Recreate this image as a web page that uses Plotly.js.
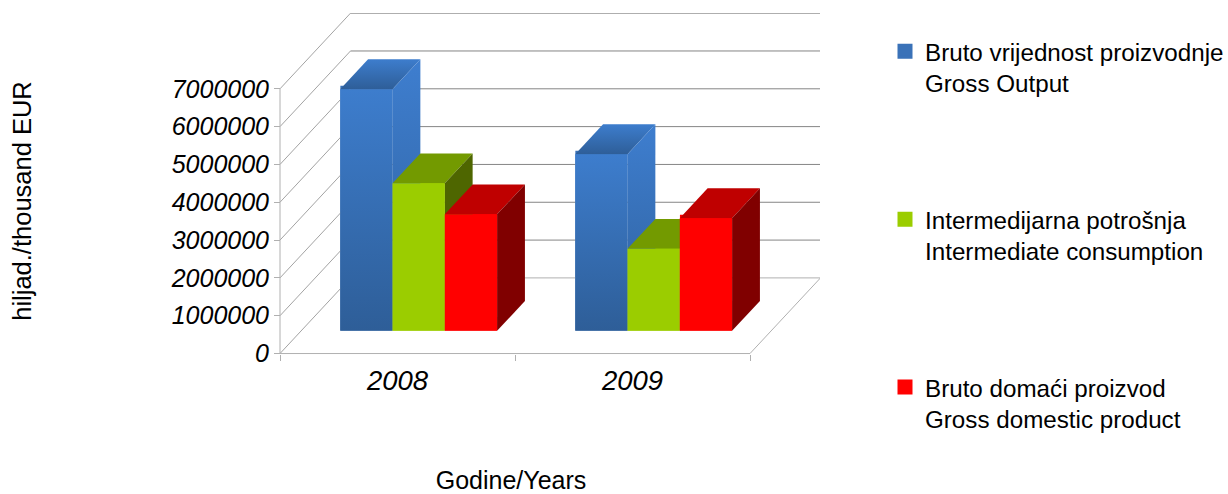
<!DOCTYPE html>
<html>
<head>
<meta charset="utf-8">
<script src="https://cdn.plot.ly/plotly-3.0.1.min.js"></script>
<style>html,body{margin:0;padding:0;background:#fff}</style>
</head>
<body>
<div id="chart" style="width:1228px;height:494px"></div>
<script>
const categories = ['2008', '2009'];
const grossOutput = [6390000, 4670000];
const intermediate = [3900000, 2170000];
const gdp = [3080000, 2980000];
const yTicks = [0, 1000000, 2000000, 3000000, 4000000, 5000000, 6000000, 7000000];
const seriesNames = [
  'Bruto vrijednost proizvodnje<br>Gross Output',
  'Intermedijarna potrošnja<br>Intermediate consumption',
  'Bruto domaći proizvod<br>Gross domestic product'
];

const FONT = 'Liberation Sans, Arial, sans-serif';
/* oblique projection of the 3D box: depth 0 = front of the floor, 1 = back wall */
const depthX = 0.3, depthY = 2000000;
const barFront = 0.3, barDepth = 0.395, barW = 0.2225;
const project = (x, v, d) => [x + d * depthX, v + d * depthY];

function poly(pts, style) {
  return Object.assign({
    type: 'scatter', mode: 'lines', x: pts.map(p => p[0]), y: pts.map(p => p[1]),
    fill: 'toself', line: {width: 0}, showlegend: false, hoverinfo: 'skip', cliponaxis: false
  }, style);
}
const solid = c => ({fillcolor: c});
const grad = (top, bottom) => ({fillgradient: {type: 'vertical', colorscale: [[0, bottom], [1, top]]}});

function lines(segs, color) {
  const x = [], y = [];
  segs.forEach(s => { s.forEach(p => { x.push(p[0]); y.push(p[1]); }); x.push(null); y.push(null); });
  return {type: 'scatter', mode: 'lines', x, y, line: {color, width: 1}, showlegend: false, hoverinfo: 'skip', cliponaxis: false};
}

const nCat = categories.length;
const traces = [];
/* walls and floor */
traces.push(lines(yTicks.map(v => [project(0, v, 0), project(0, v, 1)]), '#a3a3a3'));
traces.push(lines(yTicks.slice(1).map(v => [project(0, v, 1), project(nCat, v, 1)]), '#858585'));
traces.push(lines([[project(0, 0, 1), project(nCat, 0, 1)], [project(nCat, 0, 0), project(nCat, 0, 1)]], '#b0b0b0'));
traces.push(lines([[[0, 0], [0, yTicks[yTicks.length - 1]]], [[0, 0], [nCat, 0]]], '#b0b0b0'));

const series = [
  {vals: grossOutput, legend: '#3a72b8', front: grad('#3d7dcd', '#2e5e98'), top: grad('#3d7dcd', '#2e5e98'), side: grad('#3e7ecf', '#2f609c')},
  {vals: intermediate, legend: '#9bcd00', front: solid('#9bcd00'), top: solid('#739a00'), side: solid('#4e6600')},
  {vals: gdp, legend: '#ff0000', front: solid('#ff0000'), top: solid('#bf0000'), side: solid('#800000')}
];

/* real bars carry the values and the legend; the box faces go over them */
series.forEach((s, i) => {
  const xs = categories.map((c, k) => project(k + 0.5 + (i - 1) * barW, 0, barFront)[0]);
  traces.push({
    type: 'bar', name: seriesNames[i], x: xs, y: s.vals, base: s.vals.map(() => barFront * depthY + 50000),
    width: barW - 0.014, marker: {color: s.legend, line: {color: s.legend, width: 3}},
    legendgroup: 'g' + i, hoverinfo: 'skip'
  });
});
series.forEach((s, i) => {
  s.vals.forEach((v, k) => {
    const l = k + 0.5 + (i - 1.5) * barW, r = l + barW;
    const d0 = barFront, d1 = barFront + barDepth;
    traces.push(poly([project(l, v, d0), project(r, v, d0), project(r, v, d1), project(l, v, d1), project(l, v, d0)], s.top));
    traces.push(poly([project(r, 0, d0), project(r, 0, d1), project(r, v, d1), project(r, v, d0), project(r, 0, d0)], s.side));
    traces.push(poly([project(l, 0, d0), project(r, 0, d0), project(r, v, d0), project(l, v, d0), project(l, 0, d0)], s.front));
  });
});

const pxPerCat = 235, pxPerVal = 37.76 / 1000000;
const W = 1228, H = 494, L = 202, R = 820, T = 13.3, B = 388.7, axisX = 280, axisY = 353.3;
const layout = {
  width: W, height: H, autosize: false,
  margin: {l: L, r: W - R, t: T, b: H - B, pad: 0},
  paper_bgcolor: '#fff', plot_bgcolor: '#fff',
  font: {family: FONT, color: '#000'},
  barmode: 'overlay', showlegend: true,
  xaxis: {
    range: [(L - axisX) / pxPerCat, (R - axisX) / pxPerCat],
    anchor: 'free', position: (B - axisY) / (B - T),
    tickmode: 'array', tickvals: categories.map((c, k) => k + 0.5), ticktext: categories,
    ticks: '', tickfont: {family: FONT, size: 27.5, style: 'italic', color: '#000'}, ticklabelstandoff: 8,
    minor: {tickmode: 'array', tickvals: [0, 1, 2], ticks: 'outside', ticklen: 6, tickcolor: '#b0b0b0', tickwidth: 1},
    showgrid: false, zeroline: false, showline: false, fixedrange: true,
    title: {text: 'Godine/Years', font: {family: FONT, size: 25, color: '#000'}, standoff: 78}
  },
  yaxis: {
    range: [(axisY - B) / pxPerVal, (axisY - T) / pxPerVal],
    anchor: 'free', position: (axisX - L) / (R - L),
    tickmode: 'array', tickvals: yTicks, ticktext: yTicks.map(String),
    ticks: 'outside', ticklen: 6, tickcolor: '#b0b0b0', tickwidth: 1,
    tickfont: {family: FONT, size: 25, style: 'italic', color: '#000'},
    showgrid: false, zeroline: false, showline: false, fixedrange: true,
    title: {text: 'hiljad./thousand EUR', font: {family: FONT, size: 25.5, color: '#000'}, standoff: 130}
  },
  legend: {
    xref: 'container', yref: 'container',
    x: 885 / W, xanchor: 'left', y: 1 - 29 / H, yanchor: 'top',
    font: {family: FONT, size: 24.2, color: '#000'}, tracegroupgap: 102, valign: 'top', maxheight: 460,
    itemclick: false, itemdoubleclick: false, bgcolor: 'rgba(0,0,0,0)', borderwidth: 0
  }
};
Plotly.newPlot('chart', traces, layout, {displayModeBar: false, staticPlot: true});
</script>
</body>
</html>
